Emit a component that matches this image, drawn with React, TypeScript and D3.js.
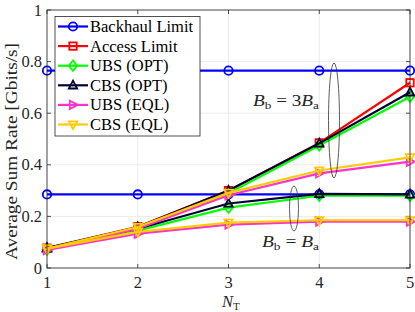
import React from "react";
import * as d3 from "d3";

const xValues = [1, 2, 3, 4, 5];
const xTicks = [1, 2, 3, 4, 5];
const yTicks = [0, 0.2, 0.4, 0.6, 0.8, 1];

const backhaulHigh = [0.765, 0.765, 0.765, 0.765, 0.765];
const backhaulLow = [0.285, 0.285, 0.285, 0.285, 0.285];
const accessLimit = [0.077, 0.16, 0.3, 0.485, 0.718];
const ubsOptHigh = [0.072, 0.15, 0.29, 0.475, 0.664];
const cbsOptHigh = [0.077, 0.158, 0.3, 0.483, 0.681];
const ubsOptLow = [0.072, 0.145, 0.234, 0.28, 0.28];
const cbsOptLow = [0.077, 0.152, 0.25, 0.287, 0.285];
const ubsEqlHigh = [0.072, 0.152, 0.282, 0.367, 0.412];
const cbsEqlHigh = [0.075, 0.159, 0.291, 0.378, 0.429];
const ubsEqlLow = [0.07, 0.133, 0.168, 0.18, 0.18];
const cbsEqlLow = [0.075, 0.14, 0.176, 0.185, 0.185];

const legendLabels = ["Backhaul Limit", "Access Limit", "UBS (OPT)", "CBS (OPT)", "UBS (EQL)", "CBS (EQL)"];
const colors = ["#0000ff", "#ff0000", "#00ff00", "#000033", "#ff33cc", "#ffcc00"];
const markers = ["circle", "square", "diamond", "triUp", "triRight", "triDown"];

const seriesList = [
  { values: backhaulHigh, k: 0 },
  { values: backhaulLow, k: 0 },
  { values: accessLimit, k: 1 },
  { values: ubsOptHigh, k: 2 },
  { values: ubsOptLow, k: 2 },
  { values: cbsOptHigh, k: 3 },
  { values: cbsOptLow, k: 3 },
  { values: ubsEqlHigh, k: 4 },
  { values: ubsEqlLow, k: 4 },
  { values: cbsEqlHigh, k: 5 },
  { values: cbsEqlLow, k: 5 },
];

const W = 415;
const H = 312;
const left = 47;
const right = 410;
const top = 10;
const bottom = 268;
const FONT = "'Liberation Serif', 'DejaVu Serif', serif";

function Marker({ type, x, y, color }: { type: string; x: number; y: number; color: string }) {
  const s = 4.2;
  const common = { fill: "none", stroke: color, strokeWidth: 1.8 };
  if (type === "circle") return <circle cx={x} cy={y} r={s} {...common} />;
  if (type === "square") return <rect x={x - s + 0.5} y={y - s + 0.5} width={2 * s - 1} height={2 * s - 1} {...common} />;
  if (type === "diamond")
    return <path d={`M${x},${y - s - 1}L${x + s},${y}L${x},${y + s + 1}L${x - s},${y}Z`} {...common} />;
  if (type === "triUp")
    return <path d={`M${x},${y - s - 0.5}L${x + s},${y + s - 1}L${x - s},${y + s - 1}Z`} {...common} />;
  if (type === "triRight")
    return <path d={`M${x + s + 0.5},${y}L${x - s + 1},${y - s}L${x - s + 1},${y + s}Z`} {...common} />;
  return <path d={`M${x},${y + s + 0.5}L${x + s},${y - s + 1}L${x - s},${y - s + 1}Z`} {...common} />;
}

export default function App() {
  const xScale = d3.scaleLinear().domain([1, 5]).range([left, right]);
  const yScale = d3.scaleLinear().domain([0, 1]).range([bottom, top]);
  const line = d3
    .line<number>()
    .x((_, i) => xScale(xValues[i]))
    .y((d) => yScale(d));

  const legX = 55;
  const legY = 16.5;
  const legW = 145;
  const legH = 119.5;
  const rowH = 19.6;

  return (
    <svg width={W} height={H} style={{ position: "absolute", left: 0, top: 0, background: "#fff" }} fontFamily={FONT}>
      <rect x={0} y={0} width={W} height={H} fill="#fff" />
      {/* grid */}
      {xTicks.map((t) => (
        <line key={"gx" + t} x1={xScale(t)} x2={xScale(t)} y1={top} y2={bottom} stroke="#e6e6e6" strokeWidth={0.8} />
      ))}
      {yTicks.map((t) => (
        <line key={"gy" + t} x1={left} x2={right} y1={yScale(t)} y2={yScale(t)} stroke="#e6e6e6" strokeWidth={0.8} />
      ))}
      {/* ticks */}
      {xTicks.map((t) => (
        <g key={"tx" + t}>
          <line x1={xScale(t)} x2={xScale(t)} y1={bottom} y2={bottom - 4} stroke="#262626" strokeWidth={0.8} />
          <line x1={xScale(t)} x2={xScale(t)} y1={top} y2={top + 4} stroke="#262626" strokeWidth={0.8} />
          <text x={xScale(t)} y={288} textAnchor="middle" fontSize={16.5} fill="#262626">
            {t}
          </text>
        </g>
      ))}
      {yTicks.map((t) => (
        <g key={"ty" + t}>
          <line x1={left} x2={left + 4} y1={yScale(t)} y2={yScale(t)} stroke="#262626" strokeWidth={0.8} />
          <line x1={right} x2={right - 4} y1={yScale(t)} y2={yScale(t)} stroke="#262626" strokeWidth={0.8} />
          <text x={left - 5} y={yScale(t) + 5.5} textAnchor="end" fontSize={16.5} fill="#262626">
            {d3.format("~g")(t)}
          </text>
        </g>
      ))}
      {/* series */}
      {seriesList.map((s, i) => (
        <g key={"s" + i}>
          <path d={line(s.values) || ""} fill="none" stroke={colors[s.k]} strokeWidth={2.2} />
          {s.values.map((v, j) => (
            <Marker key={j} type={markers[s.k]} x={xScale(xValues[j])} y={yScale(v)} color={colors[s.k]} />
          ))}
        </g>
      ))}
      {/* box */}
      <rect x={left} y={top} width={right - left} height={bottom - top} fill="none" stroke="#262626" strokeWidth={0.8} />
      {/* ellipses and annotations */}
      <ellipse cx={334} cy={120.5} rx={5.5} ry={57.5} fill="none" stroke="#333" strokeWidth={0.8} />
      <ellipse cx={294} cy={208.5} rx={4.5} ry={22.5} fill="none" stroke="#333" strokeWidth={0.8} />
      <text x={253} y={106} fontSize={16} fill="#262626" textLength={66} lengthAdjust="spacingAndGlyphs">
        <tspan fontStyle="italic">B</tspan>
        <tspan fontSize={11} dy={3}>b</tspan>
        <tspan dy={-3}> = 3</tspan>
        <tspan fontStyle="italic">B</tspan>
        <tspan fontSize={11} dy={3}>a</tspan>
      </text>
      <text x={262} y={247} fontSize={16} fill="#262626" textLength={57} lengthAdjust="spacingAndGlyphs">
        <tspan fontStyle="italic">B</tspan>
        <tspan fontSize={11} dy={3}>b</tspan>
        <tspan dy={-3}> = </tspan>
        <tspan fontStyle="italic">B</tspan>
        <tspan fontSize={11} dy={3}>a</tspan>
      </text>
      {/* axis labels */}
      <text x={222} y={307} fontSize={16.5} fill="#262626">
        <tspan fontStyle="italic">N</tspan>
        <tspan fontSize={11} dy={3}>T</tspan>
      </text>
      <text
        transform={`translate(16.5,${151.5}) rotate(-90)`}
        textAnchor="middle"
        fontSize={16}
        fill="#262626"
        textLength={217}
        lengthAdjust="spacingAndGlyphs"
      >
        Average Sum Rate [Gbits/s]
      </text>
      {/* legend */}
      <rect x={legX} y={legY} width={legW} height={legH} fill="#fff" stroke="#262626" strokeWidth={0.8} />
      {legendLabels.map((lab, i) => {
        const cy = legY + 10 + i * rowH;
        return (
          <g key={"l" + i}>
            <line x1={58} x2={88} y1={cy} y2={cy} stroke={colors[i]} strokeWidth={2.2} />
            <Marker type={markers[i]} x={73} y={cy} color={colors[i]} />
            <text x={90} y={cy + 5.5} fontSize={16.5} fill="#000">
              {lab}
            </text>
          </g>
        );
      })}
    </svg>
  );
}
